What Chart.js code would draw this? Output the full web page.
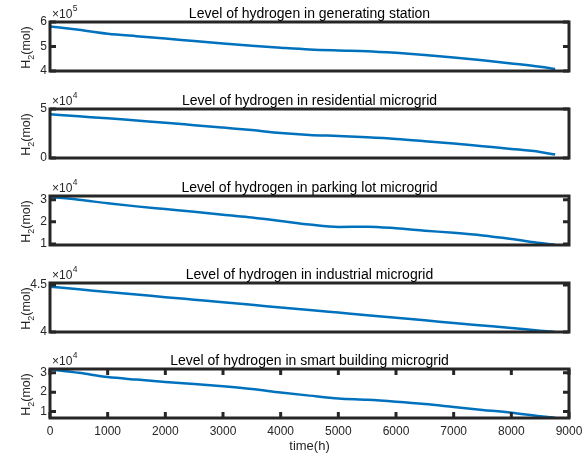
<!DOCTYPE html>
<html>
<head>
<meta charset="utf-8">
<script src="https://cdn.jsdelivr.net/npm/chart.js@4.4.1/dist/chart.umd.min.js"></script>
<style>
  html, body { margin: 0; padding: 0; background: #fff; }
  #wrap { position: relative; width: 582px; height: 456px; background: #fff; overflow: hidden; }
  #wrap canvas { position: absolute; left: 0; top: 0; }
</style>
</head>
<body>
<div id="wrap"></div>
<script>
// Hourly samples over one year (h)
const hours = [0, 500, 1000, 1500, 2000, 2500, 3000, 3500, 4000, 4500, 5000, 5500, 6000, 6500, 7000, 7500, 8000, 8500, 8760];

// Stored hydrogen (mol) per site
const generatingStation = [582000, 568000, 552000, 542000, 533000, 522000, 512000, 503000, 495000, 488000, 484000, 481000, 474000, 465000, 455000, 444000, 431000, 417000, 408000];
const residential = [44600, 42500, 40500, 38200, 36000, 33500, 31000, 28500, 25500, 23500, 22500, 21200, 19500, 17200, 14700, 12000, 9300, 6200, 3500];
const parkingLot = [31300, 30000, 28400, 27000, 25800, 24600, 23200, 22000, 20400, 18800, 17700, 17800, 17100, 16000, 15000, 13800, 12200, 10400, 9600];
const industrial = [44800, 44530, 44250, 43980, 43700, 43430, 43160, 42880, 42610, 42330, 42060, 41790, 41510, 41240, 40960, 40690, 40420, 40140, 40000];
const smartBuilding = [31800, 30000, 27800, 26500, 25300, 24200, 23000, 21600, 19800, 18200, 16700, 16000, 15000, 13800, 12300, 10800, 9300, 7500, 6700];

const titles = [
  'Level of hydrogen in generating station',
  'Level of hydrogen in residential microgrid',
  'Level of hydrogen in parking lot microgrid',
  'Level of hydrogen in industrial microgrid',
  'Level of hydrogen in smart building microgrid'
];

// Axis ticks (y ticks in units of 10^exponent)
const xTicks = [0, 1000, 2000, 3000, 4000, 5000, 6000, 7000, 8000, 9000];
const yTicks = [[4, 5, 6], [0, 5], [1, 2, 3], [4, 4.5], [1, 2, 3]];
const exponents = [5, 4, 4, 4, 4];
const yLimits = [[400000, 600000], [0, 50000], [9500, 31700], [40000, 45200], [6600, 32000]];
const series = [generatingStation, residential, parkingLot, industrial, smartBuilding];

// Panel frames (pixels)
const frames = [
  { top: 22, bottom: 71 },
  { top: 109, bottom: 158 },
  { top: 196, bottom: 245 },
  { top: 283, bottom: 332 },
  { top: 369, bottom: 418 }
];

const FONT = '"Liberation Sans", Arial, Helvetica, sans-serif';
const W = 582, H = 456;
const AXIS = '#262626';

const boxPlugin = {
  id: 'box',
  afterDatasetsDraw(chart, args, o) {
    const { ctx, chartArea: a, scales } = chart;
    const x = scales.x, y = scales.y;
    ctx.save();
    // Frame and inward ticks
    ctx.strokeStyle = AXIS;
    ctx.lineWidth = 3;
    ctx.strokeRect(a.left, a.top, a.right - a.left, a.bottom - a.top);
    const tl = 6;
    ctx.beginPath();
    y.ticks.forEach(t => {
      const py = y.getPixelForValue(t.value);
      ctx.moveTo(a.left, py); ctx.lineTo(a.left + tl, py);
      ctx.moveTo(a.right, py); ctx.lineTo(a.right - tl, py);
    });
    if (o.showX) {
      x.ticks.forEach(t => {
        const px = x.getPixelForValue(t.value);
        ctx.moveTo(px, a.bottom); ctx.lineTo(px, a.bottom - tl);
        ctx.moveTo(px, a.top); ctx.lineTo(px, a.top + tl);
      });
    }
    ctx.stroke();

    // Title
    ctx.fillStyle = '#000';
    ctx.textAlign = 'center';
    ctx.textBaseline = 'alphabetic';
    ctx.font = '14px ' + FONT;
    ctx.fillText(o.title, (a.left + a.right) / 2, a.top - 4);

    // Exponent multiplier
    ctx.fillStyle = AXIS;
    ctx.textAlign = 'left';
    ctx.font = '12px ' + FONT;
    ctx.fillText('\u00d710', a.left + 2, a.top - 4);
    const w = ctx.measureText('\u00d710').width;
    ctx.font = '8.5px ' + FONT;
    ctx.fillText(String(o.exp), a.left + 2 + w + 0.5, a.top - 11);

    // Y label H2(mol) with subscript
    ctx.translate(30, (a.top + a.bottom) / 2 + 1);
    ctx.rotate(-Math.PI / 2);
    const big = '12.5px ' + FONT, small = '9px ' + FONT;
    ctx.font = big; const wH = ctx.measureText('H').width; const wM = ctx.measureText('(mol)').width;
    ctx.font = small; const w2 = ctx.measureText('2').width;
    let cx = -(wH + w2 + wM) / 2;
    ctx.font = big; ctx.fillText('H', cx, 0); cx += wH;
    ctx.font = small; ctx.fillText('2', cx, 3.5); cx += w2;
    ctx.font = big; ctx.fillText('(mol)', cx, 0);
    ctx.restore();

    if (o.showX) {
      ctx.save();
      ctx.fillStyle = AXIS;
      ctx.font = '13px ' + FONT;
      ctx.textAlign = 'center';
      ctx.textBaseline = 'alphabetic';
      ctx.fillText('time(h)', (a.left + a.right) / 2, 450);
      ctx.restore();
    }
  }
};

const wrap = document.getElementById('wrap');

series.forEach((vals, i) => {
  const f = frames[i];
  const showX = i === series.length - 1;
  const scaleFactor = Math.pow(10, exponents[i]);
  const canvas = document.createElement('canvas');
  canvas.width = W; canvas.height = H;
  canvas.style.width = W + 'px'; canvas.style.height = H + 'px';
  wrap.appendChild(canvas);

  new Chart(canvas, {
    type: 'line',
    data: {
      datasets: [{
        data: hours.map((h, k) => ({ x: h, y: vals[k] })),
        borderColor: '#0072BD',
        borderWidth: 2.5,
        pointRadius: 0,
        cubicInterpolationMode: 'monotone',
        fill: false
      }]
    },
    plugins: [boxPlugin],
    options: {
      responsive: false,
      animation: false,
      devicePixelRatio: 1,
      layout: { padding: { top: f.top, right: 13, bottom: showX ? 0 : H - f.bottom, left: 0 } },
      plugins: {
        legend: { display: false },
        tooltip: { enabled: false },
        box: { title: titles[i], exp: exponents[i], showX: showX }
      },
      scales: {
        x: {
          type: 'linear',
          min: 0, max: 9000,
          display: showX,
          afterBuildTicks: s => { s.ticks = xTicks.map(v => ({ value: v })); },
          afterFit: s => {
            s.height = showX ? H - f.bottom : 0;
            s.paddingLeft = 0; s.paddingRight = 0;
          },
          grid: { display: false, drawTicks: false, tickLength: 0 },
          border: { display: false },
          ticks: {
            padding: 6, color: AXIS, autoSkip: false, maxRotation: 0,
            font: { family: FONT, size: 12 },
            callback: v => String(v)
          }
        },
        y: {
          type: 'linear',
          min: yLimits[i][0], max: yLimits[i][1],
          afterBuildTicks: s => { s.ticks = yTicks[i].map(v => ({ value: v * scaleFactor })); },
          afterFit: s => { s.width = 50; s.paddingTop = 0; s.paddingBottom = 0; },
          grid: { display: false, drawTicks: false, tickLength: 0 },
          border: { display: false },
          ticks: {
            padding: 3, color: AXIS, autoSkip: false,
            font: { family: FONT, size: 12 },
            callback: v => String(Number((v / scaleFactor).toFixed(2)))
          }
        }
      }
    }
  });
});
</script>
</body>
</html>
